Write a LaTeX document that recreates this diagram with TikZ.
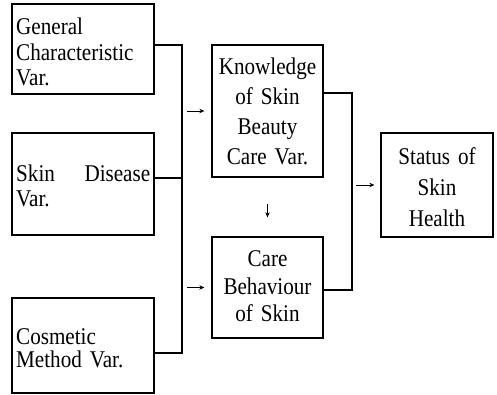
\documentclass[tikz,border=0pt]{standalone}
\usepackage{fontspec}
\setmainfont{Liberation Serif}[WordSpace=1.8, FakeStretch=0.88]
\usetikzlibrary{arrows.meta}
\begin{document}
\begin{tikzpicture}[x=1pt,y=1pt,
  box/.style={draw, line width=1.3pt, inner sep=0pt},
  txt/.style={inner sep=0pt, font=\fontsize{24}{#1}\selectfont},
  conn/.style={line width=1.1pt},
  arr/.style={line width=0.9pt, -{Stealth[length=5pt,width=4.5pt]}}]
\useasboundingbox (0,0) rectangle (497,395);
% boxes
\node[box, minimum width=142, minimum height=90]  (g) at (83,346) {};
\node[box, minimum width=142, minimum height=102] (d) at (83,211) {};
\node[box, minimum width=142, minimum height=95]  (c) at (83,49.5) {};
\node[box, minimum width=111, minimum height=132] (k) at (267.5,284) {};
\node[box, minimum width=111, minimum height=101] (b) at (267.5,107.5) {};
\node[box, minimum width=112, minimum height=104] (s) at (437,210) {};
% texts
\node[txt=25.5, text width=135, align=left, anchor=base west] (gt) at (16,360) {General\\Characteristic\\Var.};
\node[txt=25, text width=134, align=left, anchor=base west] (dt) at (16,213) {Skin\hfill Disease\\Var.};
\node[txt=23, text width=135, align=left, anchor=base west] (ct) at (16,50) {Cosmetic\\Method Var.};
\node[txt=30, text width=111, align=center, anchor=base] (kt) at (267.5,320) {Knowledge\\of Skin\\Beauty\\Care Var.};
\node[txt=27.5, text width=111, align=center, anchor=base] (bt) at (267.5,128) {Care\\Behaviour\\of Skin};
\node[txt=31, text width=112, align=center, anchor=base] (st) at (437,230) {Status of\\Skin\\Health};
% left connector
\path ([yshift=4]g.east) coordinate (g1)
      ([yshift=6]d.east) coordinate (d1)
      ([yshift=-7.5]c.east) coordinate (c1);
\coordinate (jt) at (182,350);
\coordinate (jb) at (182,42);
\draw[conn] (g1) -- (jt) -- (jb) -- (c1);
\draw[conn] (d1) -- (d1 -| jt);
\draw[arr] ([xshift=-24]k.west) -- ([xshift=-7]k.west);
\draw[arr] ([xshift=-24]b.west) -- ([xshift=-7]b.west);
% down arrow
\draw[arr] ([yshift=-26]k.south) -- ([yshift=19]b.north);
% right connector
\path ([yshift=18]k.east) coordinate (k1)
      ([yshift=-2.5]b.east) coordinate (b1);
\coordinate (rt) at (352,302);
\coordinate (rb) at (352,105);
\draw[conn] (k1) -- (rt) -- (rb) -- (b1);
\draw[arr] ([xshift=-24]s.west) -- ([xshift=-6]s.west);
\end{tikzpicture}
\end{document}
